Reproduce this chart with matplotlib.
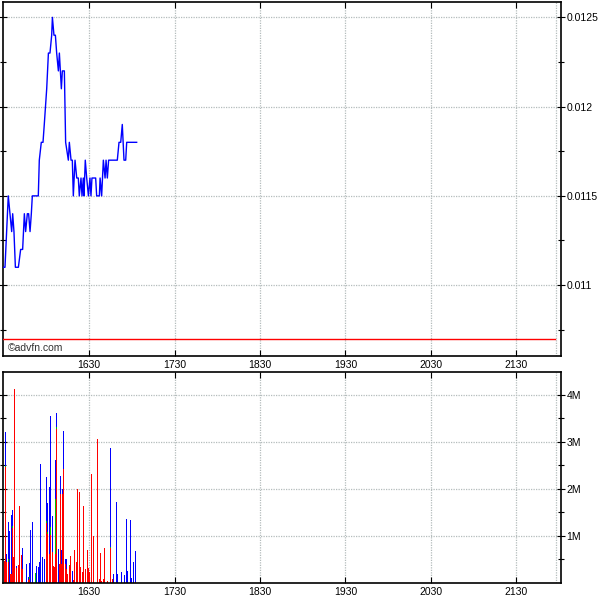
import numpy as np
import matplotlib
matplotlib.use("Agg")
import matplotlib.pyplot as plt
from matplotlib.ticker import FixedLocator, FixedFormatter

plt.rcParams['font.family'] = ['Liberation Sans', 'DejaVu Sans']

# ---- price trace (minutes after midnight, price) ----
price_t = [929.6, 930.8, 933.1, 935.5, 936.2, 937.1, 938.1, 940.2, 941.8, 943.2,
           944.4, 945.3, 946.5, 947.4, 948.4, 949.3, 950.0, 954.2, 954.9, 956.3,
           957.5, 958.4, 960.1, 961.3, 962.4, 963.6, 964.1, 965.2, 966.2, 967.1,
           968.3, 969.0, 970.4, 971.1, 972.5, 973.4, 975.3, 976.0, 977.2, 978.1,
           978.8, 980.0, 981.2, 982.3, 983.0, 984.2, 984.9, 985.8, 986.3, 987.2,
           988.2, 989.4, 990.5, 991.2, 991.9, 994.5, 995.2, 997.1, 997.6, 998.7,
           999.9, 1001.1, 1001.8, 1002.7, 1003.6, 1009.7, 1010.9, 1012.1, 1013.2,
           1014.4, 1015.6, 1016.3, 1023.3]
price_v = [0.0111, 0.0111, 0.0115, 0.0113, 0.0114, 0.0113, 0.0111, 0.0111, 0.0112, 0.0112,
           0.0114, 0.0113, 0.0114, 0.0114, 0.0113, 0.0114, 0.0115, 0.0115, 0.0117, 0.0118,
           0.0118, 0.0119, 0.0121, 0.0123, 0.0123, 0.0124, 0.0125, 0.0124, 0.0124, 0.0123,
           0.0122, 0.0123, 0.0121, 0.0122, 0.0122, 0.0118, 0.0117, 0.0118, 0.0117, 0.0117,
           0.0115, 0.0117, 0.0116, 0.0116, 0.0115, 0.0116, 0.0115, 0.0116, 0.0115, 0.0117,
           0.0116, 0.0115, 0.0116, 0.0115, 0.0116, 0.0116, 0.0115, 0.0115, 0.0116, 0.0115,
           0.0117, 0.0116, 0.0117, 0.0116, 0.0117, 0.0117, 0.0118, 0.0118, 0.0119,
           0.0117, 0.0117, 0.0118, 0.0118]
prev_close = 0.0107

# ---- volume bars (minutes after midnight, volume in millions split by colour) ----
vol_t = [930.3, 931.0, 931.7, 933.1, 933.8, 934.5, 935.2, 935.9, 936.6, 937.8,
         938.7, 940.1, 940.9, 942.3, 943.0, 945.8, 947.2, 947.9, 948.6, 950.0,
         952.1, 952.8, 954.2, 954.9, 955.6, 957.0, 958.4, 959.8, 960.5, 961.9,
         962.6, 964.0, 964.7, 965.4, 966.1, 966.8, 968.3, 969.0, 969.7, 970.4,
         971.1, 971.8, 973.2, 973.9, 974.6, 976.0, 976.7, 978.1, 978.8, 979.5,
         980.9, 981.6, 983.0, 983.7, 985.1, 985.8, 987.2, 988.6, 989.3, 990.0,
         991.4, 992.8, 995.7, 997.1, 997.8, 998.5, 999.9, 1000.6, 1002.7, 1004.8,
         1006.2, 1006.9, 1009.0, 1009.7, 1012.5, 1014.6, 1016.0, 1016.7, 1018.8, 1019.5,
         1020.9, 1022.3]
vol_red = [0.47, 2.47, 0.45, 0.45, 0.0, 0.19, 0.20, 1.16, 0.55, 4.11,
           0.31, 0.39, 1.63, 0.60, 0.30, 0.0, 0.06, 0.08, 0.0, 0.0,
           0.0, 0.0, 0.0, 0.0, 0.0, 0.0, 0.0, 1.28, 1.05, 0.62,
           1.01, 0.65, 0.37, 0.33, 0.62, 3.28, 0.0, 0.40, 1.89, 0.40,
           1.89, 2.43, 0.40, 0.30, 0.19, 0.37, 0.58, 0.02, 0.07, 0.71,
           0.44, 2.00, 1.94, 0.33, 0.24, 1.63, 0.30, 0.71, 0.31, 0.24,
           2.32, 0.99, 3.05, 0.09, 0.64, 0.05, 0.09, 0.74, 0.05, 0.74,
           0.09, 0.0, 0.0, 0.0, 0.0, 0.0, 0.0, 0.0, 0.0, 0.0,
           0.0, 0.03]
vol_green = [0.0, 0.02, 0.0, 0.05, 0.0, 0.0, 0.0, 0.04, 0.0, 0.0,
             0.0, 0.0, 0.0, 0.0, 0.0, 0.0, 0.0, 0.04, 0.0, 0.0,
             0.21, 0.0, 0.0, 0.0, 0.0, 0.0, 0.0, 0.03, 0.03, 0.0,
             0.18, 0.0, 0.0, 0.0, 1.17, 0.04, 0.0, 0.0, 0.0, 0.0,
             0.0, 0.0, 0.0, 0.0, 0.0, 0.02, 0.0, 0.0, 0.0, 0.0,
             0.0, 0.0, 0.0, 0.0, 0.0, 0.0, 0.0, 0.0, 0.0, 0.0,
             0.0, 0.0, 0.0, 0.0, 0.0, 0.0, 0.0, 0.0, 0.0, 0.02,
             0.0, 0.0, 0.0, 0.0, 0.0, 0.0, 0.0, 0.0, 0.0, 0.0,
             0.0, 0.0]
vol_blue = [0.0, 0.72, 0.17, 0.79, 1.11, 0.0, 1.25, 0.36, 0.0, 0.0,
            0.06, 0.0, 0.0, 0.0, 0.44, 0.41, 0.06, 0.31, 1.13, 1.30,
            0.0, 0.37, 0.33, 0.45, 2.52, 0.56, 0.52, 0.95, 0.62, 1.42,
            2.36, 0.78, 0.0, 0.0, 0.83, 0.30, 0.72, 0.0, 0.38, 0.30,
            0.11, 0.79, 0.11, 0.21, 0.0, 0.0, 0.0, 0.24, 0.0, 0.0,
            0.0, 0.0, 0.0, 0.0, 0.0, 0.0, 0.0, 0.0, 0.0, 0.0,
            0.0, 0.0, 0.0, 0.0, 0.0, 0.0, 0.0, 0.0, 0.0, 2.11,
            0.0, 0.19, 1.72, 0.19, 0.24, 0.16, 1.35, 0.26, 1.33, 0.10,
            0.45, 0.64]

# ---- axes labels ----
hour_ticks = [990, 1050, 1110, 1170, 1230, 1290]
hour_labels = ['1630', '1730', '1830', '1930', '2030', '2130']
session_end = 1318
price_ticks = [0.011, 0.0115, 0.012, 0.0125]
price_labels = ['0.011', '0.0115', '0.012', '0.0125']
vol_ticks = [1, 2, 3, 4]
vol_labels = ['1M', '2M', '3M', '4M']

grid_kw = dict(color='#b4bcbc', linewidth=0.9, linestyle=(0, (1, 1)), zorder=0)

fig = plt.figure(figsize=(6, 6), dpi=100)
ax1 = fig.add_axes([3/600, 1 - 356/600, 558/600, 354/600])
ax2 = fig.add_axes([3/600, 1 - 583/600, 558/600, 211/600])

for ax in (ax1, ax2):
    ax.set_xlim(929.4, 1321.4)
    ax.xaxis.set_major_locator(FixedLocator(hour_ticks))
    ax.xaxis.set_major_formatter(FixedFormatter(hour_labels))
    ax.tick_params(axis='x', direction='in', length=4, width=0.8, labelsize=7.5, pad=3,
                   top=True, bottom=True)
    ax.yaxis.tick_right()
    ax.tick_params(axis='y', which='both', direction='inout', left=True, right=True,
                   labelsize=7.5, pad=1, width=0.8)
    ax.tick_params(axis='y', which='major', length=6)
    ax.tick_params(axis='y', which='minor', length=5)
    for s in ax.spines.values():
        s.set_linewidth(1.2)
    ax.grid(True, axis='both', which='major', **grid_kw)
    ax.axvline(session_end, **grid_kw)
    ax.set_axisbelow(True)

# price panel
ax1.set_ylim(0.010603, 0.012586)
ax1.yaxis.set_major_locator(FixedLocator(price_ticks))
ax1.yaxis.set_major_formatter(FixedFormatter(price_labels))
ax1.yaxis.set_minor_locator(FixedLocator([0.01075, 0.01125, 0.01175, 0.01225]))
ax1.plot(price_t, price_v, color='#0000ff', linewidth=1.0, zorder=3)
ax1.axhline(prev_close, xmin=0, xmax=(555 - 3) / 558, color='#ff0000', linewidth=1.0, zorder=3)
ax1.text(0.008, 0.022, '\u00a9advfn.com', transform=ax1.transAxes, fontsize=7.5,
         color='#333333', ha='left', va='center')

# volume panel
ax2.set_ylim(0, 4.48)
ax2.yaxis.set_major_locator(FixedLocator(vol_ticks))
ax2.yaxis.set_major_formatter(FixedFormatter(vol_labels))
ax2.yaxis.set_minor_locator(FixedLocator([0.5, 1.5, 2.5, 3.5]))
red = np.array(vol_red)
green = np.array(vol_green)
blue = np.array(vol_blue)
w = 0.72
ax2.bar(vol_t, red, width=w, color='#ff0000', linewidth=0, zorder=2)
ax2.bar(vol_t, green, bottom=red, width=w, color='#00c000', linewidth=0, zorder=2)
ax2.bar(vol_t, blue, bottom=red + green, width=w, color='#0000ff', linewidth=0, zorder=2)

fig.savefig('out.png', dpi=100, facecolor='white')
